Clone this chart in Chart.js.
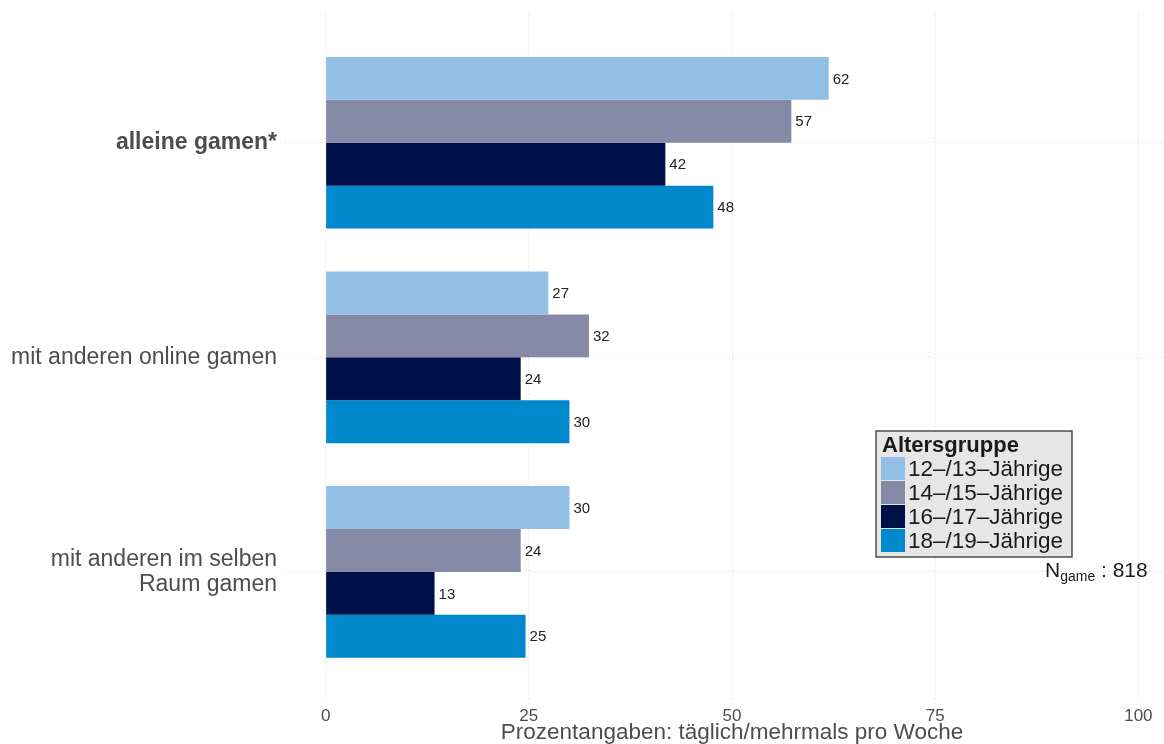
<!DOCTYPE html>
<html>
<head>
<meta charset="utf-8">
<script src="https://cdn.jsdelivr.net/npm/chart.js@4/dist/chart.umd.min.js"></script>
<style>
  html, body { margin: 0; padding: 0; background: #ffffff; overflow: hidden; }
  #wrap { width: 1179px; height: 744px; }
</style>
</head>
<body>
<div id="wrap"><canvas id="c" width="1179" height="744"></canvas></div>
<script>
// ---- data ----
const categories = ['alleine gamen*', 'mit anderen online gamen', 'mit anderen im selben\nRaum gamen'];
const seriesNames = ['12–/13–Jährige', '14–/15–Jährige', '16–/17–Jährige', '18–/19–Jährige'];
const values1213 = [61.9, 27.4, 30.0];
const values1415 = [57.3, 32.4, 24.0];
const values1617 = [41.8, 24.0, 13.4];
const values1819 = [47.7, 30.0, 24.6];
const xTickValues = [0, 25, 50, 75, 100];
const legendTitle = 'Altersgruppe';
const nLabel = 'N';
const nSub = 'game';
const nValue = '818';
const xTitle = 'Prozentangaben: täglich/mehrmals pro Woche';

// ---- styles ----
const seriesColors = ['#93bfe6', '#878aa6', '#00114a', '#0088cc'];
const FONT = "'Liberation Sans', Arial, Helvetica, sans-serif";
const gridColor = '#d4d4d4';

const allValues = [values1213, values1415, values1617, values1819];
const datasets = allValues.map((vals, s) => ({
  label: seriesNames[s],
  data: categories.map((c, i) => ({ x: vals[i], y: i })),
  backgroundColor: seriesColors[s],
  borderWidth: 0,
  barPercentage: 1.0,
  categoryPercentage: 0.8
}));

const valueLabels = {
  id: 'valueLabels',
  afterDatasetsDraw(chart) {
    const ctx = chart.ctx;
    ctx.save();
    ctx.font = '15px ' + FONT;
    ctx.fillStyle = '#222222';
    ctx.textAlign = 'left';
    ctx.textBaseline = 'middle';
    chart.data.datasets.forEach((ds, di) => {
      const meta = chart.getDatasetMeta(di);
      meta.data.forEach((bar, i) => {
        const v = ds.data[i].x;
        ctx.fillText(String(Math.round(v)), bar.x + 4, bar.y + 1);
      });
    });
    ctx.restore();
  }
};

const customLegend = {
  id: 'customLegend',
  afterDraw(chart) {
    const ctx = chart.ctx;
    ctx.save();
    const bx = 876, by = 431, bw = 196, bh = 126;
    ctx.fillStyle = '#e6e6e6';
    ctx.fillRect(bx, by, bw, bh);
    ctx.strokeStyle = '#4d4d4d';
    ctx.lineWidth = 1.5;
    ctx.strokeRect(bx, by, bw, bh);
    ctx.fillStyle = '#1a1a1a';
    ctx.textAlign = 'left';
    ctx.textBaseline = 'alphabetic';
    ctx.font = 'bold 22px ' + FONT;
    ctx.fillText(legendTitle, 882, 452);
    ctx.font = '22.5px ' + FONT;
    ctx.textBaseline = 'middle';
    chart.data.datasets.forEach((ds, i) => {
      const ry = 457 + i * 24;
      ctx.fillStyle = ds.backgroundColor;
      ctx.fillRect(881, ry, 24, 23);
      ctx.fillStyle = '#1a1a1a';
      ctx.fillText(ds.label, 908, ry + 13);
    });
    // N annotation
    ctx.textBaseline = 'alphabetic';
    let x = 1045;
    ctx.font = '21px ' + FONT;
    ctx.fillText(nLabel, x, 577);
    x += ctx.measureText(nLabel).width;
    ctx.font = '14px ' + FONT;
    ctx.fillText(nSub, x, 581);
    x += ctx.measureText(nSub).width;
    ctx.font = '21px ' + FONT;
    ctx.fillText(' : ' + nValue, x, 577);
    ctx.restore();
  }
};

new Chart(document.getElementById('c'), {
  type: 'bar',
  data: { datasets },
  plugins: [valueLabels, customLegend],
  options: {
    indexAxis: 'y',
    responsive: false,
    animation: false,
    devicePixelRatio: 1,
    layout: { padding: { top: 14, left: 0, right: 0, bottom: 0 } },
    plugins: {
      legend: { display: false },
      tooltip: { enabled: false }
    },
    scales: {
      x: {
        type: 'linear',
        min: -5,
        max: 105,
        offset: false,
        afterBuildTicks(scale) { scale.ticks = xTickValues.map(v => ({ value: v })); },
        afterFit(scale) { scale.height = 43.3; scale.paddingLeft = 0; scale.paddingRight = 0; },
        grid: { color: gridColor, lineWidth: 1, drawTicks: false, offset: false },
        border: { display: false, dash: [1, 3] },
        ticks: {
          font: { family: FONT, size: 17 },
          color: '#4d4d4d',
          padding: 5,
          maxRotation: 0,
          autoSkip: false,
          callback: (v) => String(v)
        },
        title: {
          display: true,
          text: xTitle,
          font: { family: FONT, size: 22.5, lineHeight: 1 },
          color: '#4d4d4d',
          padding: 0
        }
      },
      y: {
        type: 'linear',
        min: -0.6,
        max: 2.6,
        reverse: true,
        offset: false,
        afterBuildTicks(scale) { scale.ticks = categories.map((c, i) => ({ value: i })); },
        afterFit(scale) { scale.width = 285; scale.paddingTop = 0; scale.paddingBottom = 0; },
        grid: { color: gridColor, lineWidth: 1, drawTicks: false, offset: false },
        border: { display: false, dash: [1, 3] },
        ticks: {
          autoSkip: false,
          padding: 8,
          color: '#4d4d4d',
          font: (ctx) => ({ family: FONT, size: 23, lineHeight: 1.07, weight: ctx.index === 0 ? 'bold' : 'normal' }),
          callback: (v) => {
            const s = categories[v];
            return s.includes('\n') ? s.split('\n') : s;
          }
        }
      }
    }
  }
});
</script>
</body>
</html>
